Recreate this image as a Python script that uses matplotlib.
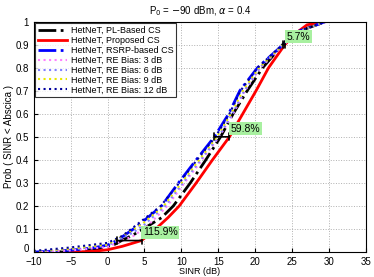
import matplotlib
matplotlib.use("Agg")
import matplotlib.pyplot as plt

plt.rcParams['font.family'] = ['Liberation Sans', 'DejaVu Sans']

# CDF curves: SINR (dB) vs probability
prob_red = [0, 0.003, 0.01, 0.025, 0.05, 0.1, 0.15, 0.2, 0.3, 0.4, 0.5, 0.6, 0.7, 0.8, 0.9, 0.95, 0.986, 1.0]
sinr_proposed = [-5, -2, 0, 2, 4.6, 6.5, 8.2, 9.7, 12.0, 14.2, 16.5, 18.3, 20.1, 21.8, 24.0, 25.5, 27.0, 29.5]

prob_pl = [0, 0.005, 0.015, 0.034, 0.05, 0.077, 0.1, 0.149, 0.2, 0.3, 0.4, 0.5, 0.6, 0.7, 0.8, 0.9, 0.95, 1.0]
sinr_pl = [-7, -4, -1, 1.0, 1.9, 3.6, 4.8, 7.3, 8.9, 11.2, 13.3, 15.3, 17.0, 18.9, 21.0, 23.7, 25.2, 29.5]

prob_rsrp = [0.0, 0.008, 0.018, 0.03, 0.05, 0.1, 0.125, 0.162, 0.2, 0.3, 0.4, 0.5, 0.6, 0.7, 0.8, 0.9, 0.95, 1.0]
sinr_rsrp = [-10, -5, -2, 0, 1.26, 3.5, 4.5, 5.9, 7.3, 9.6, 12.0, 14.46, 16.4, 17.9, 20.3, 23.76, 25.2, 29.5]

prob_re12 = [0.005, 0.02, 0.04, 0.07, 0.12, 0.2, 0.3, 0.4, 0.5, 0.6, 0.7, 0.8, 0.9, 0.95, 1.0]
sinr_re12 = [-10, -5, 0, 2, 4, 7.2, 9.7, 12.1, 14.6, 16.5, 18.0, 20.3, 23.7, 25.1, 29.5]

prob_re9 = [0.003, 0.014, 0.033, 0.093, 0.125, 0.2, 0.3, 0.4, 0.5, 0.6, 0.7, 0.8, 0.9, 0.95, 1.0]
sinr_re9 = [-10, -5, 0, 3.2, 4.8, 7.6, 10.0, 12.4, 14.8, 16.7, 18.3, 20.5, 23.8, 25.3, 29.5]

prob_re6 = [0.002, 0.011, 0.028, 0.085, 0.12, 0.2, 0.3, 0.4, 0.5, 0.6, 0.7, 0.8, 0.9, 0.95, 1.0]
sinr_re6 = [-10, -5, 0, 3.5, 5.0, 7.8, 10.2, 12.6, 15.0, 16.9, 18.5, 20.6, 23.8, 25.3, 29.5]

prob_re3 = [0.0, 0.007, 0.022, 0.07, 0.11, 0.2, 0.3, 0.4, 0.5, 0.6, 0.7, 0.8, 0.9, 0.95, 1.0]
sinr_re3 = [-9, -5, 0, 3.5, 5.3, 8.1, 10.4, 12.8, 15.1, 17.0, 18.6, 20.7, 23.9, 25.4, 29.5]

# gain markers: (prob level, left SINR, right SINR, label)
gain_prob = [0.05, 0.5, 0.9]
gain_left = [1.26, 14.46, 23.76]
gain_right = [4.6, 16.5, 24.0]
gain_text = ['115.9%', '59.8%', '5.7%']

fig = plt.figure(figsize=(3.74, 2.77), dpi=100)
ax = fig.add_axes([0.09, 0.09, 0.889, 0.832])

ax.plot(sinr_pl, prob_pl, 'k-.', lw=2, label='HetNeT, PL-Based CS')
ax.plot(sinr_proposed, prob_red, 'r-', lw=2, label='HetNeT, Proposed CS')
ax.plot(sinr_rsrp, prob_rsrp, 'b-.', lw=2, label='HetNeT, RSRP-based CS')
ax.plot(sinr_re3, prob_re3, ':', color='#ff80ff', lw=1.5, label='HetNeT, RE Bias: 3 dB')
ax.plot(sinr_re6, prob_re6, ':', color='#8080ff', lw=1.5, label='HetNeT, RE Bias: 6 dB')
ax.plot(sinr_re9, prob_re9, ':', color='#e8e800', lw=1.5, label='HetNeT, RE Bias: 9 dB')
ax.plot(sinr_re12, prob_re12, ':', color='#0000a0', lw=1.5, label='HetNeT, RE Bias: 12 dB')

for p, xl, xr, t in zip(gain_prob, gain_left, gain_right, gain_text):
    ax.annotate('', xy=(xl, p), xytext=(xr, p),
                arrowprops=dict(arrowstyle='|-|,widthA=0.25,widthB=0.25', color='k', lw=1.2,
                                shrinkA=0, shrinkB=0))
    ax.text(xr + 0.2, p + 0.035, t, fontsize=7.5, va='center', ha='left',
            bbox=dict(facecolor='#a8f0a0', edgecolor='none', pad=1.2))

ax.set_xlim(-10, 35)
ax.set_ylim(0, 1)
ax.set_xticks(range(-10, 36, 5))
ax.set_yticks([i / 10 for i in range(11)])
ax.set_yticklabels(['0', '0.1', '0.2', '0.3', '0.4', '0.5', '0.6', '0.7', '0.8', '0.9', '1'])
ax.tick_params(labelsize=7, direction='in', length=3)
ax.tick_params(axis='x', pad=3.5)
ax.tick_params(axis='y', pad=3.5)
ax.get_yticklabels()[0].set_verticalalignment('baseline')
ax.grid(True, linestyle=':', color='#b0b0b0', lw=0.7)

ax.set_xlabel('SINR (dB)', fontsize=6.5, labelpad=0)
ax.set_ylabel('Prob ( SINR < Abscica )', fontsize=7, labelpad=1)
ax.set_title(r'P$_0$ = $-$90 dBm, $\alpha$ = 0.4', fontsize=7, pad=5)

leg = ax.legend(loc='upper left', fontsize=6.5, handlelength=3.2, labelspacing=0.1,
                borderpad=0.3, handletextpad=0.4, fancybox=False, borderaxespad=0.2)
leg.get_frame().set_edgecolor('k')
leg.get_frame().set_linewidth(0.8)

fig.savefig('out.png', dpi=100)
